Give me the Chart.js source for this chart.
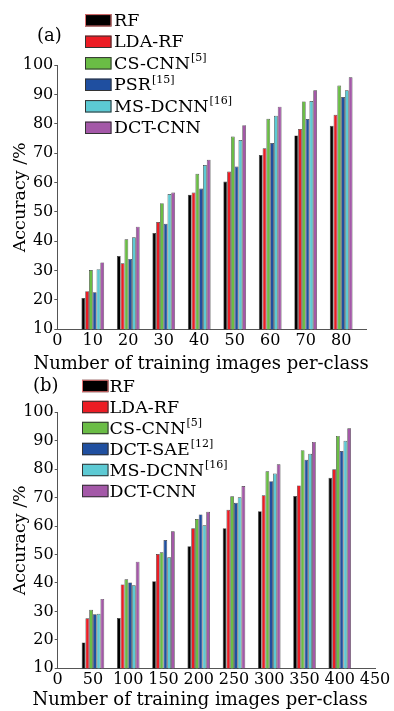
<!DOCTYPE html>
<html>
<head>
<meta charset="utf-8">
<script src="https://cdn.jsdelivr.net/npm/chart.js@4.4.1/dist/chart.umd.min.js"></script>
<style>
  html, body { margin: 0; padding: 0; background: #fff; }
  #wrap { position: relative; width: 394px; height: 711px; }
  canvas { position: absolute; left: 0; top: 0; }
</style>
</head>
<body>
<div id="wrap">
  <canvas id="chartA" width="394" height="711"></canvas>
  <canvas id="chartB" width="394" height="711"></canvas>
</div>
<script>
// panel (a)
const groupsA = [10, 20, 30, 40, 50, 60, 70, 80];
const namesA = ['RF', 'LDA-RF', 'CS-CNN', 'PSR', 'MS-DCNN', 'DCT-CNN'];
const refsA = ['', '', '[5]', '[15]', '[16]', ''];
const rfA = [20.7, 35.0, 42.8, 55.9, 60.4, 69.4, 76.1, 79.4];
const ldaA = [23.0, 32.5, 46.6, 56.6, 63.8, 71.7, 78.3, 83.1];
const cscnnA = [30.2, 40.7, 53.0, 63.0, 75.7, 81.8, 87.7, 93.1];
const psrA = [22.6, 34.0, 46.0, 58.0, 65.5, 73.5, 81.7, 89.2];
const msdcnnA = [30.5, 41.4, 56.1, 66.0, 74.5, 82.8, 87.8, 91.5];
const dctcnnA = [32.8, 45.0, 56.6, 67.8, 79.6, 85.9, 91.5, 95.9];

// panel (b)
const groupsB = [50, 100, 150, 200, 250, 300, 350, 400];
const namesB = ['RF', 'LDA-RF', 'CS-CNN', 'DCT-SAE', 'MS-DCNN', 'DCT-CNN'];
const refsB = ['', '', '[5]', '[12]', '[16]', ''];
const rfB = [19.1, 27.7, 40.6, 52.9, 59.2, 65.2, 70.6, 77.0];
const ldaB = [27.6, 39.5, 50.2, 59.2, 65.7, 70.8, 74.3, 80.0];
const cscnnB = [30.6, 41.3, 50.8, 62.5, 70.5, 79.3, 86.7, 91.7];
const dctsaeB = [29.0, 40.2, 55.1, 64.1, 68.2, 75.8, 83.3, 86.4];
const msdcnnB = [29.2, 39.2, 49.0, 60.3, 70.1, 78.5, 85.4, 90.0];
const dctcnnB = [34.4, 47.5, 58.2, 65.0, 74.1, 81.7, 89.6, 94.4];

const yTicks = [10, 20, 30, 40, 50, 60, 70, 80, 90, 100];
const xTitle = 'Number of training images per-class';

const colors = ['#000000', '#ec1c24', '#6abd45', '#1f4fa0', '#5ccad4', '#a458a8'];
const FONT = '"DejaVu Serif", serif';

const makeSets = (names, series, groups) => names.map((name, i) => ({
  label: name,
  data: series[i].map((v, j) => ({ x: groups[j], y: v })),
  backgroundColor: colors[i],
  borderColor: 'rgba(30,30,30,0.85)',
  borderWidth: 0.7,
  barPercentage: 1,
  categoryPercentage: 0.64
}));

// legend with superscript refs, panel letter and the x title
const refLegend = {
  id: 'refLegend',
  afterDraw(chart, args, o) {
    const ctx = chart.ctx;
    ctx.save();
    ctx.textBaseline = 'middle';
    ctx.fillStyle = '#000';
    ctx.font = '18px ' + FONT;
    ctx.fillText(o.panel, o.panelX, o.panelY);
    ctx.textAlign = 'center';
    ctx.font = '18px ' + FONT;
    ctx.fillText(xTitle, o.titleX, o.titleY);
    ctx.textAlign = 'left';
    chart.data.datasets.forEach((ds, i) => {
      const y = o.y + i * o.step;
      ctx.fillStyle = ds.backgroundColor;
      ctx.fillRect(o.boxX, y - 6.2, 26.5, 12.4);
      ctx.lineWidth = 1;
      ctx.strokeStyle = i === 0 ? '#e07070' : '#333';
      ctx.strokeRect(o.boxX + 0.5, y - 5.7, 25.5, 11.4);
      ctx.fillStyle = '#000';
      ctx.font = '17.5px ' + FONT;
      ctx.fillText(ds.label, o.textX, y + 1);
      if (o.refs[i]) {
        const w = ctx.measureText(ds.label).width;
        ctx.font = '11px ' + FONT;
        ctx.fillText(o.refs[i], o.textX + w + 1, y - 5);
      }
    });
    ctx.restore();
  }
};

function makeChart(id, sets, xMax, xStep, box, legend) {
  return new Chart(document.getElementById(id), {
    type: 'bar',
    data: { datasets: sets },
    plugins: [refLegend],
    options: {
      responsive: false,
      animation: false,
      devicePixelRatio: 1,
      layout: { padding: { left: 0, top: box.top, right: 394 - box.right, bottom: 711 - box.xBottom } },
      plugins: {
        legend: { display: false },
        tooltip: { enabled: false },
        refLegend: legend
      },
      scales: {
        x: {
          type: 'linear',
          offset: false,
          min: 0,
          max: xMax,
          afterFit: s => { s.height = box.xBottom - box.bottom; },
          ticks: {
            stepSize: xStep, includeBounds: false, autoSkip: false, maxRotation: 0, minRotation: 0,
            padding: 2, color: '#000', font: { family: FONT, size: 16 }
          },
          grid: { drawOnChartArea: false, drawTicks: false },
          border: { display: true, color: '#555', width: 1 }
        },
        y: {
          min: 10,
          max: 100,
          afterFit: s => { s.width = box.left; },
          afterBuildTicks: s => { s.ticks = yTicks.map(v => ({ value: v })); },
          ticks: { padding: 1, color: '#000', font: { family: FONT, size: 16 } },
          grid: { drawOnChartArea: false, drawTicks: true, tickLength: 3, color: '#555' },
          border: { display: true, color: '#555', width: 1 },
          title: { display: true, text: 'Accuracy /%', color: '#000', font: { family: FONT, size: 17.5 }, padding: { top: 10, bottom: 0 } }
        }
      }
    }
  });
}

makeChart('chartA',
  makeSets(namesA, [rfA, ldaA, cscnnA, psrA, msdcnnA, dctcnnA], groupsA),
  87.2, 10,
  { left: 57.3, right: 366.7, top: 65.3, bottom: 329.3, xBottom: 373 },
  { panel: '(a)', panelX: 37, panelY: 36, boxX: 85, textX: 114, y: 20.3, step: 21.5, refs: refsA, titleX: 201, titleY: 364 });

makeChart('chartB',
  makeSets(namesB, [rfB, ldaB, cscnnB, dctsaeB, msdcnnB, dctcnnB], groupsB),
  450, 50,
  { left: 57.7, right: 375, top: 412.3, bottom: 668.3, xBottom: 711 },
  { panel: '(b)', panelX: 33, panelY: 386, boxX: 82, textX: 109.5, y: 386, step: 21, refs: refsB, titleX: 200, titleY: 700 });
</script>
</body>
</html>
